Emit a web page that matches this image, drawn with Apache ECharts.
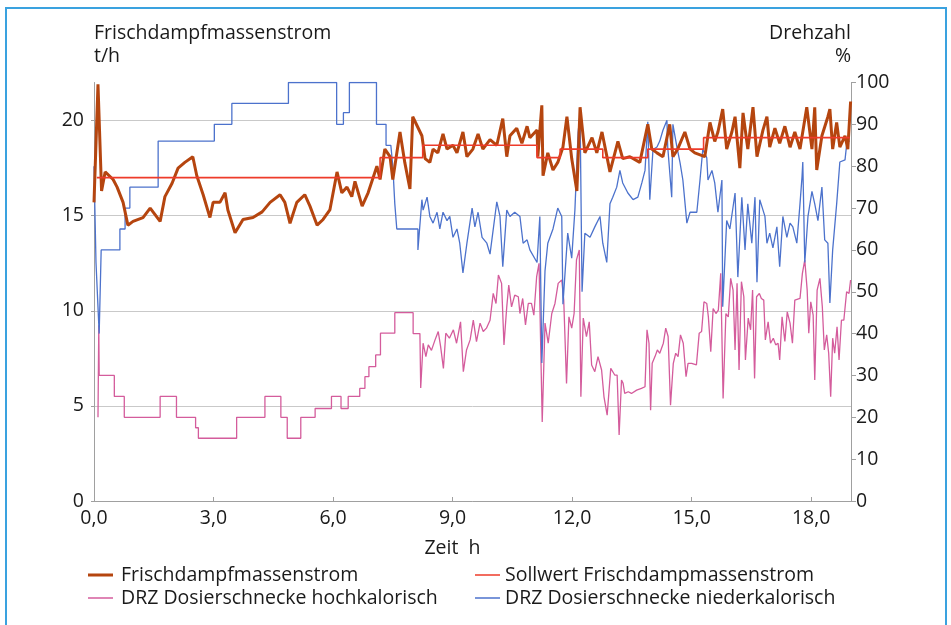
<!DOCTYPE html>
<html>
<head>
<meta charset="utf-8">
<script src="https://cdn.jsdelivr.net/npm/echarts@6/dist/echarts.min.js"></script>
<style>
html,body{margin:0;padding:0;background:#fff;}
#frame{position:absolute;left:5px;top:7px;width:942px;height:640px;border:2px solid #3aa2df;box-sizing:border-box;}
#chart{position:absolute;left:0;top:0;width:951px;height:625px;}
</style>
</head>
<body>
<div id="frame"></div>
<div id="chart"></div>
<script>
// ---- Data ----
const xTicks = [0, 3, 6, 9, 12, 15, 18];
const leftTicks = [0, 5, 10, 15, 20];
const rightTicks = [0, 10, 20, 30, 40, 50, 60, 70, 80, 90, 100];

// Frischdampfmassenstrom (t/h)
const steamT = [0.00,0.10,0.19,0.28,0.48,0.58,0.73,0.85,0.98,1.23,1.41,1.66,1.78,1.96,2.11,2.28,2.48,2.58,2.74,2.91,2.99,3.16,3.29,3.36,3.54,3.74,3.99,4.22,4.42,4.67,4.79,4.92,5.09,5.29,5.42,5.60,5.75,5.92,6.10,6.22,6.35,6.47,6.55,6.73,6.88,7.10,7.18,7.30,7.43,7.50,7.68,7.80,7.93,8.00,8.23,8.31,8.43,8.51,8.63,8.76,8.86,9.01,9.11,9.26,9.36,9.51,9.64,9.76,9.94,10.11,10.26,10.36,10.44,10.61,10.74,10.87,10.94,11.12,11.14,11.24,11.27,11.39,11.52,11.64,11.77,11.87,11.99,12.12,12.20,12.32,12.50,12.62,12.75,12.95,13.15,13.27,13.45,13.70,13.90,14.00,14.13,14.28,14.45,14.53,14.65,14.83,14.96,15.08,15.33,15.46,15.58,15.66,15.78,15.88,16.01,16.09,16.21,16.29,16.41,16.54,16.64,16.79,16.89,16.96,17.09,17.21,17.34,17.47,17.59,17.72,17.89,18.02,18.09,18.14,18.27,18.42,18.47,18.54,18.64,18.72,18.85,18.92,18.99];
const steamV = [15.7,21.9,16.3,17.3,16.9,16.5,15.7,14.5,14.7,14.9,15.4,14.7,16.0,16.7,17.5,17.8,18.1,17.1,16.1,14.9,15.7,15.7,16.2,15.3,14.1,14.8,14.9,15.2,15.7,16.1,15.7,14.6,15.7,16.1,15.5,14.5,14.8,15.3,17.3,16.2,16.5,16.0,16.8,15.5,16.2,17.6,16.9,18.5,18.1,16.9,19.4,17.8,16.4,20.2,19.2,18.0,17.8,18.5,18.3,19.3,18.5,18.7,18.3,19.4,18.1,18.5,19.3,18.5,19.0,18.7,20.1,18.1,19.2,19.6,18.8,19.7,19.1,19.5,18.1,20.8,17.1,18.3,17.4,17.8,18.6,20.2,18.0,16.3,20.7,18.3,19.1,18.3,19.4,17.3,18.9,18.0,18.1,17.8,19.8,18.5,18.3,18.1,19.8,18.1,18.5,19.4,18.5,18.3,18.1,19.9,18.9,19.4,20.6,18.5,19.4,20.2,17.5,20.4,18.5,20.7,18.1,19.5,20.2,18.6,19.6,18.8,19.7,18.6,19.4,18.5,20.7,18.5,20.7,17.4,19.2,20.2,20.6,18.5,19.9,18.6,19.2,18.5,21.0];

// Sollwert Frischdampfmassenstrom (t/h)
const setT = [0.07,7.18,7.18,8.25,8.25,11.12,11.12,11.70,11.70,12.77,12.77,13.90,13.90,15.30,15.30,18.97];
const setV = [17.0,17.0,18.05,18.05,18.7,18.7,18.05,18.05,18.5,18.5,18.05,18.05,18.5,18.5,19.1,19.1];

// DRZ Dosierschnecke hochkalorisch (%)
const highT = [0.10,0.12,0.13,0.51,0.51,0.76,0.76,1.66,1.66,2.07,2.07,2.55,2.55,2.62,2.62,3.58,3.58,4.29,4.29,4.69,4.69,4.85,4.85,5.19,5.19,5.55,5.55,5.96,5.96,6.20,6.20,6.38,6.38,6.67,6.67,6.80,6.80,6.90,6.90,7.07,7.07,7.19,7.19,7.55,7.55,8.01,8.01,8.18,8.20,8.26,8.33,8.39,8.47,8.56,8.64,8.70,8.77,8.83,8.92,9.02,9.10,9.20,9.27,9.35,9.44,9.52,9.60,9.69,9.77,9.85,9.94,10.02,10.09,10.15,10.23,10.29,10.36,10.41,10.48,10.56,10.65,10.69,10.76,10.83,10.90,10.98,11.04,11.11,11.17,11.25,11.32,11.40,11.49,11.57,11.65,11.74,11.79,11.86,11.92,11.99,12.05,12.11,12.18,12.22,12.28,12.36,12.43,12.49,12.57,12.65,12.74,12.80,12.88,12.97,13.07,13.13,13.18,13.24,13.28,13.32,13.41,13.49,13.62,13.74,13.83,13.88,13.93,13.97,14.01,14.08,14.14,14.20,14.29,14.35,14.41,14.47,14.54,14.60,14.66,14.72,14.79,14.86,14.91,15.00,15.12,15.19,15.25,15.31,15.38,15.42,15.48,15.54,15.61,15.67,15.73,15.79,15.86,15.92,15.98,16.04,16.09,16.14,16.19,16.25,16.31,16.35,16.42,16.48,16.53,16.58,16.63,16.70,16.75,16.81,16.85,16.92,16.98,17.05,17.11,17.17,17.21,17.27,17.34,17.40,17.47,17.53,17.59,17.72,17.78,17.84,17.90,17.94,17.99,18.05,18.09,18.15,18.22,18.28,18.33,18.39,18.44,18.49,18.54,18.59,18.65,18.70,18.76,18.82,18.89,18.95,18.99];
const highV = [20,42,30,30,25,25,20,20,25,25,20,20,17.5,17.5,15,15,20,20,25,25,20,20,15,15,20,20,22.1,22.1,25,25,22.1,22.1,25,25,26.9,26.9,29.7,29.7,32.1,32.1,34.9,34.9,40.1,40.1,45,45,40,40,27,37.7,34.5,37.3,36,38.5,40.5,36.9,31.7,40.1,38.9,40.9,37.7,42.8,30.9,36.1,38.5,43.2,38.1,42.5,40.5,41.3,43.2,49.6,47.2,54,52,37.3,46.4,51.6,46.4,49.2,48.8,44.8,48.4,42.1,47.2,47.2,44.4,53.6,56.8,18.9,42.5,37.7,44.8,47.2,52,52.8,48,28.1,44,41.3,44.8,57.6,60,24.9,43.7,39.3,42.8,32.5,30.9,34.5,31.3,24.9,20.5,31.7,30.1,30.1,15.8,28.9,28.1,25.7,26.1,25.7,26.5,26.9,27.3,40.9,37.7,21.7,32.9,34.5,36.1,35.3,37.7,41.3,39.3,22.9,32.9,35.3,34.5,39.7,37.7,29.7,32.9,32.9,32.5,40.1,40.5,47.6,47.2,44,35.7,46,44.8,45.6,54.4,24.5,44.8,44,53.2,50.4,36.1,52,31.3,52.4,48.8,33.7,43.7,40.9,50.4,29.3,48.8,49.6,48.4,48,38.5,42.8,37.7,38.9,37.3,37.7,33.7,44,38.1,45.2,42.5,37.7,48,48.4,54.4,57.6,50.4,40.1,47.6,44.4,28.9,50.4,53.2,46.4,36.1,39.7,35.3,24.9,38.9,35.3,41.6,33.7,43.2,43.2,50,49.6,52.8];

// DRZ Dosierschnecke niederkalorisch (%)
const lowT = [0.00,0.05,0.13,0.18,0.65,0.65,0.78,0.78,0.90,0.90,1.61,1.61,3.02,3.02,3.46,3.46,4.88,4.88,6.09,6.09,6.26,6.26,6.41,6.41,7.09,7.09,7.33,7.33,7.45,7.50,7.55,7.60,8.13,8.13,8.23,8.26,8.36,8.43,8.51,8.61,8.68,8.76,8.86,8.93,9.01,9.11,9.18,9.26,9.36,9.49,9.56,9.64,9.74,9.86,9.94,10.11,10.19,10.26,10.36,10.44,10.56,10.69,10.77,10.87,10.94,11.12,11.19,11.24,11.32,11.39,11.52,11.64,11.74,11.77,11.89,11.99,12.07,12.15,12.20,12.25,12.32,12.45,12.57,12.70,12.77,12.87,12.95,13.02,13.12,13.20,13.27,13.40,13.53,13.65,13.75,13.83,13.90,13.95,14.03,14.13,14.20,14.28,14.38,14.40,14.50,14.53,14.63,14.71,14.78,14.88,14.96,15.13,15.21,15.28,15.38,15.41,15.51,15.58,15.66,15.76,15.78,15.88,15.96,16.09,16.16,16.26,16.34,16.41,16.51,16.59,16.64,16.71,16.84,16.89,16.96,17.04,17.14,17.21,17.29,17.39,17.47,17.54,17.64,17.72,17.77,17.79,17.84,17.92,18.02,18.09,18.17,18.27,18.34,18.42,18.47,18.54,18.64,18.72,18.85,18.90,18.97];
const lowV = [80,57,40,60,60,65,65,70,70,75,75,86,86,90,90,95,95,100,100,90,90,92.8,92.8,100,100,90,90,85,85,80,71,65,65,60,72,69.5,72.6,68,66.4,69,65,69,67,68,63,65,61.6,54.5,61.6,70,65.5,69,63,61.6,59,71.5,68,56,69.5,68,69,68,61.6,62.4,60,57,68,33,55,61.6,65,70,68,47,64,58,69.5,88,92.7,50,64,63,65.5,68,61.6,57,71,72.6,75,79,76,73.6,72,72.6,76,79,90.6,72,84,84.6,86,88.6,91,84.6,72.6,90,84.6,80.8,76.7,66.4,69,69,76.7,84,82,76.7,79,76,69,76.7,46.4,67,65,73.6,53.5,72.6,60,71,61.6,72.6,52.3,72,68,61.6,64,60.5,65.5,56,68,63,66.4,65.5,61.6,71,77.4,81,57,68,74,71,67,75,62.4,61.6,47.3,60,71,81,81.5,86,86];

const names = ['Frischdampfmassenstrom','Sollwert Frischdampmassenstrom','DRZ Dosierschnecke hochkalorisch','DRZ Dosierschnecke niederkalorisch'];
const colors = ['#b5450f','#ee3b2a','#d45c9c','#4c72cc'];

function pairs(t, v){ return t.map((x,i)=>[x, v[i]]); }

const FONT = "'Open Sans', 'Noto Sans', sans-serif";
const FS = 19.5;
const chart = echarts.init(document.getElementById('chart'), null, {renderer:'canvas'});
const comma = v => v.toFixed(1).replace('.', ',');

function leg(name, left, top, h, pad) {
  return {
    left: left, top: top, padding: 0, icon: 'rect', itemWidth: 25, itemHeight: h,
    textStyle: {fontSize: FS, color: '#1a1a1a', padding: [0,0,0,pad]},
    data: [name]
  };
}

chart.setOption({
  animation: false,
  textStyle: {fontFamily: FONT, color: '#1a1a1a'},
  grid: {left: 94, right: 100, top: 82.5, bottom: 124, containLabel: false},
  xAxis: {
    type: 'value', min: 0, max: 19, interval: 3,
    name: 'Zeit  h', nameLocation: 'middle', nameGap: 37,
    nameTextStyle: {fontSize: FS, color: '#1a1a1a', padding: [0, 40, 0, 0]},
    axisLine: {show: true, lineStyle: {color: '#a0a0a0', width: 1}},
    axisTick: {show: true, inside: true, length: 4, lineStyle: {color: '#a0a0a0'}},
    axisLabel: {fontSize: FS, color: '#1a1a1a', margin: 7, showMaxLabel: false,
      formatter: v => xTicks.indexOf(v) >= 0 ? comma(v) : ''},
    splitLine: {show: false}
  },
  yAxis: [{
    type: 'value', min: 0, max: 22, interval: 5, position: 'left',
    name: 'Frischdampfmassenstrom\nt/h', nameLocation: 'end', nameGap: 15,
    nameTextStyle: {fontSize: FS, color: '#1a1a1a', align: 'left', verticalAlign: 'bottom', lineHeight: 23},
    axisLine: {show: true, lineStyle: {color: '#a0a0a0'}},
    axisTick: {show: true, length: 3, lineStyle: {color: '#a0a0a0'}},
    axisLabel: {fontSize: FS, color: '#1a1a1a', margin: 10, showMaxLabel: false,
      formatter: v => leftTicks.indexOf(v) >= 0 ? String(v) : ''},
    splitLine: {show: true, lineStyle: {color: ['#c9c9c9','#c9c9c9','#c9c9c9','#c9c9c9','#c9c9c9','rgba(0,0,0,0)'], width: 1}}
  }, {
    type: 'value', min: 0, max: 100, interval: 10, position: 'right',
    name: 'Drehzahl\n%', nameLocation: 'end', nameGap: 15,
    nameTextStyle: {fontSize: FS, color: '#1a1a1a', align: 'right', verticalAlign: 'bottom', lineHeight: 23},
    axisLine: {show: true, lineStyle: {color: '#a0a0a0'}},
    axisTick: {show: true, length: 5, lineStyle: {color: '#a0a0a0'}},
    axisLabel: {fontSize: FS, color: '#1a1a1a', margin: 5,
      formatter: v => rightTicks.indexOf(v) >= 0 ? String(v) : ''},
    splitLine: {show: false}
  }],
  legend: [
    leg(names[0], 88, 565, 3, 3),
    leg(names[2], 88, 588, 1.5, 3),
    leg(names[1], 475, 565, 1.5, 0),
    leg(names[3], 475, 588, 1.5, 0)
  ],
  series: [{
    name: names[2], type: 'line', yAxisIndex: 1, data: pairs(highT, highV),
    showSymbol: false, symbol: 'none', color: colors[2], lineStyle: {width: 1.3, color: colors[2]}, z: 1
  }, {
    name: names[3], type: 'line', yAxisIndex: 1, data: pairs(lowT, lowV),
    showSymbol: false, symbol: 'none', color: colors[3], lineStyle: {width: 1.3, color: colors[3]}, z: 2
  }, {
    name: names[0], type: 'line', yAxisIndex: 0, data: pairs(steamT, steamV),
    showSymbol: false, symbol: 'none', color: colors[0], lineStyle: {width: 3, color: colors[0]}, z: 3
  }, {
    name: names[1], type: 'line', yAxisIndex: 0, data: pairs(setT, setV),
    showSymbol: false, symbol: 'none', color: colors[1], lineStyle: {width: 1.6, color: colors[1]}, z: 4
  }]
});
</script>
</body>
</html>
